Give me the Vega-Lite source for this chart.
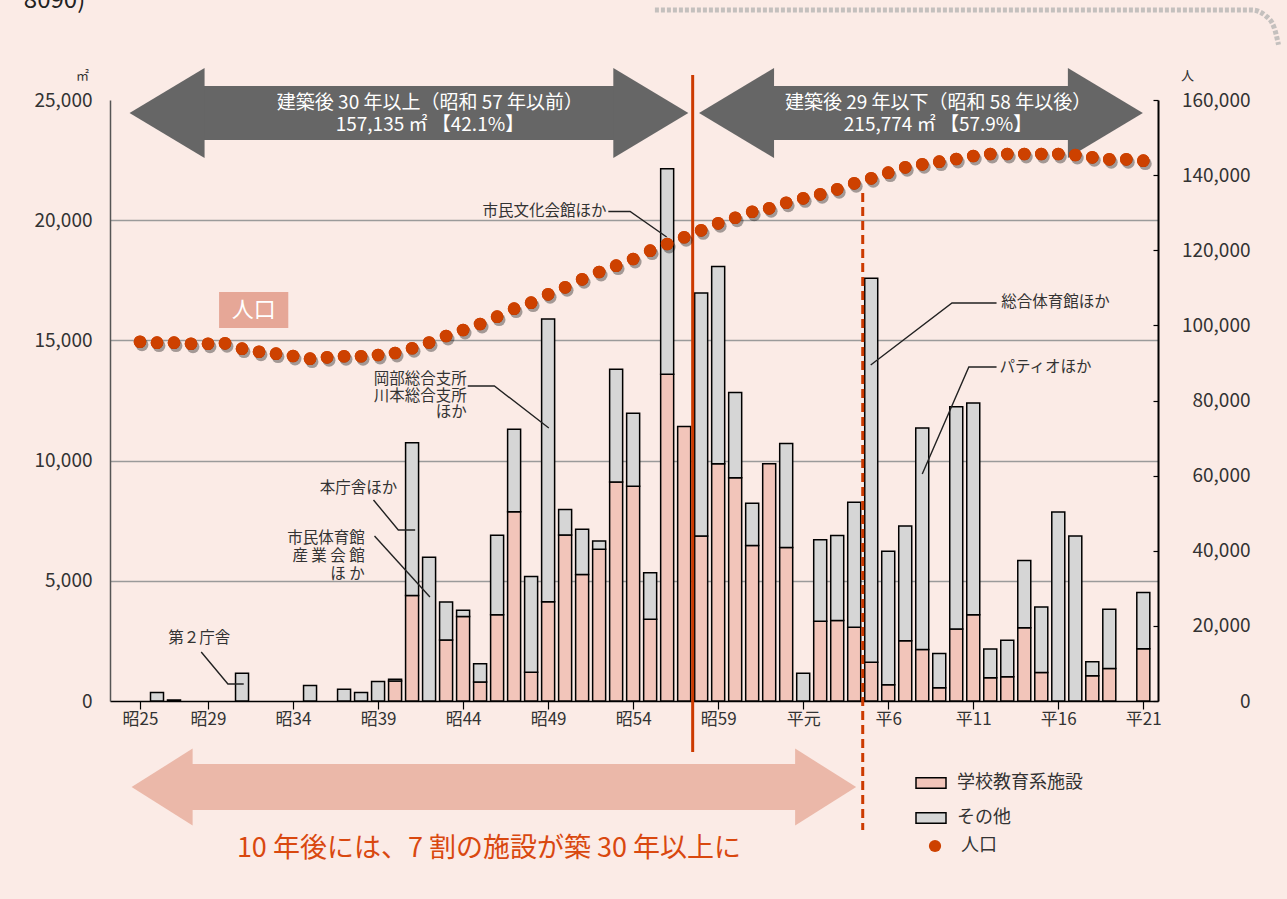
{
  "$schema": "https://vega.github.io/schema/vega-lite/v6.json",
  "width": 1048,
  "height": 601,
  "autosize": {"type": "none"},
  "padding": {"left": 110, "top": 100, "right": 129, "bottom": 198},
  "background": "#fbebe6",
  "config": {"font": "Noto Sans CJK JP", "view": {"stroke": null}},
  "datasets": {
    "bars": [
      {"year": 1951, "type": "その他", "area": 350},
      {"year": 1952, "type": "その他", "area": 40},
      {"year": 1956, "type": "その他", "area": 1150},
      {"year": 1960, "type": "その他", "area": 640},
      {"year": 1962, "type": "その他", "area": 490},
      {"year": 1963, "type": "その他", "area": 350},
      {"year": 1964, "type": "その他", "area": 810},
      {"year": 1965, "type": "学校教育系施設", "area": 830},
      {"year": 1965, "type": "その他", "area": 70},
      {"year": 1966, "type": "学校教育系施設", "area": 4390},
      {"year": 1966, "type": "その他", "area": 6350},
      {"year": 1967, "type": "その他", "area": 5980},
      {"year": 1968, "type": "学校教育系施設", "area": 2540},
      {"year": 1968, "type": "その他", "area": 1575},
      {"year": 1969, "type": "学校教育系施設", "area": 3510},
      {"year": 1969, "type": "その他", "area": 270},
      {"year": 1970, "type": "学校教育系施設", "area": 790},
      {"year": 1970, "type": "その他", "area": 755},
      {"year": 1971, "type": "学校教育系施設", "area": 3590},
      {"year": 1971, "type": "その他", "area": 3300},
      {"year": 1972, "type": "学校教育系施設", "area": 7870},
      {"year": 1972, "type": "その他", "area": 3430},
      {"year": 1973, "type": "学校教育系施設", "area": 1195},
      {"year": 1973, "type": "その他", "area": 3980},
      {"year": 1974, "type": "学校教育系施設", "area": 4130},
      {"year": 1974, "type": "その他", "area": 11755},
      {"year": 1975, "type": "学校教育系施設", "area": 6910},
      {"year": 1975, "type": "その他", "area": 1060},
      {"year": 1976, "type": "学校教育系施設", "area": 5265},
      {"year": 1976, "type": "その他", "area": 1875},
      {"year": 1977, "type": "学校教育系施設", "area": 6310},
      {"year": 1977, "type": "その他", "area": 350},
      {"year": 1978, "type": "学校教育系施設", "area": 9110},
      {"year": 1978, "type": "その他", "area": 4690},
      {"year": 1979, "type": "学校教育系施設", "area": 8930},
      {"year": 1979, "type": "その他", "area": 3040},
      {"year": 1980, "type": "学校教育系施設", "area": 3400},
      {"year": 1980, "type": "その他", "area": 1940},
      {"year": 1981, "type": "学校教育系施設", "area": 13590},
      {"year": 1981, "type": "その他", "area": 8545},
      {"year": 1982, "type": "学校教育系施設", "area": 11420},
      {"year": 1983, "type": "学校教育系施設", "area": 6860},
      {"year": 1983, "type": "その他", "area": 10110},
      {"year": 1984, "type": "学校教育系施設", "area": 9870},
      {"year": 1984, "type": "その他", "area": 8200},
      {"year": 1985, "type": "学校教育系施設", "area": 9290},
      {"year": 1985, "type": "その他", "area": 3540},
      {"year": 1986, "type": "学校教育系施設", "area": 6470},
      {"year": 1986, "type": "その他", "area": 1755},
      {"year": 1987, "type": "学校教育系施設", "area": 9870},
      {"year": 1988, "type": "学校教育系施設", "area": 6390},
      {"year": 1988, "type": "その他", "area": 4325},
      {"year": 1989, "type": "その他", "area": 1150},
      {"year": 1990, "type": "学校教育系施設", "area": 3320},
      {"year": 1990, "type": "その他", "area": 3385},
      {"year": 1991, "type": "学校教育系施設", "area": 3345},
      {"year": 1991, "type": "その他", "area": 3540},
      {"year": 1992, "type": "学校教育系施設", "area": 3070},
      {"year": 1992, "type": "その他", "area": 5200},
      {"year": 1993, "type": "学校教育系施設", "area": 1610},
      {"year": 1993, "type": "その他", "area": 15980},
      {"year": 1994, "type": "学校教育系施設", "area": 680},
      {"year": 1994, "type": "その他", "area": 5550},
      {"year": 1995, "type": "学校教育系施設", "area": 2505},
      {"year": 1995, "type": "その他", "area": 4775},
      {"year": 1996, "type": "学校教育系施設", "area": 2145},
      {"year": 1996, "type": "その他", "area": 9215},
      {"year": 1997, "type": "学校教育系施設", "area": 555},
      {"year": 1997, "type": "その他", "area": 1425},
      {"year": 1998, "type": "学校教育系施設", "area": 3000},
      {"year": 1998, "type": "その他", "area": 9245},
      {"year": 1999, "type": "学校教育系施設", "area": 3585},
      {"year": 1999, "type": "その他", "area": 8815},
      {"year": 2000, "type": "学校教育系施設", "area": 970},
      {"year": 2000, "type": "その他", "area": 1190},
      {"year": 2001, "type": "学校教育系施設", "area": 1010},
      {"year": 2001, "type": "その他", "area": 1520},
      {"year": 2002, "type": "学校教育系施設", "area": 3045},
      {"year": 2002, "type": "その他", "area": 2795},
      {"year": 2003, "type": "学校教育系施設", "area": 1190},
      {"year": 2003, "type": "その他", "area": 2725},
      {"year": 2004, "type": "その他", "area": 7860},
      {"year": 2005, "type": "その他", "area": 6860},
      {"year": 2006, "type": "学校教育系施設", "area": 1050},
      {"year": 2006, "type": "その他", "area": 580},
      {"year": 2007, "type": "学校教育系施設", "area": 1355},
      {"year": 2007, "type": "その他", "area": 2465},
      {"year": 2009, "type": "学校教育系施設", "area": 2175},
      {"year": 2009, "type": "その他", "area": 2340}
    ],
    "pop": [
      {"year": 1950, "pop": 95650}, {"year": 1951, "pop": 95390}, {"year": 1952, "pop": 95390},
      {"year": 1953, "pop": 95120}, {"year": 1954, "pop": 95120}, {"year": 1955, "pop": 95220},
      {"year": 1956, "pop": 93790}, {"year": 1957, "pop": 92990}, {"year": 1958, "pop": 92460},
      {"year": 1959, "pop": 91850}, {"year": 1960, "pop": 91130}, {"year": 1961, "pop": 91500},
      {"year": 1962, "pop": 91770}, {"year": 1963, "pop": 91770}, {"year": 1964, "pop": 92110},
      {"year": 1965, "pop": 92640}, {"year": 1966, "pop": 93900}, {"year": 1967, "pop": 95450},
      {"year": 1968, "pop": 97170}, {"year": 1969, "pop": 98770}, {"year": 1970, "pop": 100360},
      {"year": 1971, "pop": 102310}, {"year": 1972, "pop": 104440}, {"year": 1973, "pop": 106040},
      {"year": 1974, "pop": 108270}, {"year": 1975, "pop": 110130}, {"year": 1976, "pop": 112260},
      {"year": 1977, "pop": 114210}, {"year": 1978, "pop": 115890}, {"year": 1979, "pop": 117670},
      {"year": 1980, "pop": 119880}, {"year": 1981, "pop": 121660}, {"year": 1982, "pop": 123450},
      {"year": 1983, "pop": 125300}, {"year": 1984, "pop": 127170}, {"year": 1985, "pop": 128660},
      {"year": 1986, "pop": 130260}, {"year": 1987, "pop": 131160}, {"year": 1988, "pop": 132650},
      {"year": 1989, "pop": 133820}, {"year": 1990, "pop": 134890}, {"year": 1991, "pop": 136220},
      {"year": 1992, "pop": 137820}, {"year": 1993, "pop": 139150}, {"year": 1994, "pop": 140650},
      {"year": 1995, "pop": 142080}, {"year": 1996, "pop": 142880}, {"year": 1997, "pop": 143580},
      {"year": 1998, "pop": 144290}, {"year": 1999, "pop": 145090}, {"year": 2000, "pop": 145620},
      {"year": 2001, "pop": 145620}, {"year": 2002, "pop": 145620}, {"year": 2003, "pop": 145620},
      {"year": 2004, "pop": 145620}, {"year": 2005, "pop": 145360}, {"year": 2006, "pop": 144740},
      {"year": 2007, "pop": 144210}, {"year": 2008, "pop": 144210}, {"year": 2009, "pop": 143840}
    ],
    "shafts": [
      {"x": 1953.6, "x2": 1977.9, "y": 23338, "y2": 25584, "c": "top"},
      {"x": 1987.1, "x2": 2004.8, "y": 23338, "y2": 25584, "c": "top"},
      {"x": 1953.0, "x2": 1988.6, "y": -4534, "y2": -2621, "c": "bottom"}
    ],
    "heads": [
      {"x": 1951.59, "y": 24461, "dir": "L", "c": "top"},
      {"x": 1980.04, "y": 24461, "dir": "R", "c": "top"},
      {"x": 1985.08, "y": 24461, "dir": "L", "c": "top"},
      {"x": 2006.77, "y": 24461, "dir": "R", "c": "top"},
      {"x": 1951.30, "y": -3578, "dir": "L", "c": "bottom"},
      {"x": 1990.32, "y": -3578, "dir": "R", "c": "bottom"}
    ],
    "border": [
      {"i": 1, "x": 1980.28, "y": 28745},
      {"i": 2, "x": 2015.40, "y": 28745},
      {"i": 3, "x": 2016.20, "y": 28500},
      {"i": 4, "x": 2016.70, "y": 28000},
      {"i": 5, "x": 2016.95, "y": 27300}
    ],
    "leaders": [
      {"id": 1, "i": 1, "x": 1953.60, "y": 2038}, {"id": 1, "i": 2, "x": 1955.17, "y": 707}, {"id": 1, "i": 3, "x": 1956.10, "y": 707},
      {"id": 2, "i": 1, "x": 1963.73, "y": 8362}, {"id": 2, "i": 2, "x": 1965.19, "y": 7114}, {"id": 2, "i": 3, "x": 1966.18, "y": 7114},
      {"id": 3, "i": 1, "x": 1963.79, "y": 6864}, {"id": 3, "i": 2, "x": 1967.05, "y": 4326},
      {"id": 4, "i": 1, "x": 1969.27, "y": 13104}, {"id": 4, "i": 2, "x": 1970.84, "y": 13104}, {"id": 4, "i": 3, "x": 1974.04, "y": 11357},
      {"id": 5, "i": 1, "x": 1977.54, "y": 20363}, {"id": 5, "i": 2, "x": 1978.82, "y": 20363}, {"id": 5, "i": 3, "x": 1980.97, "y": 19302},
      {"id": 6, "i": 1, "x": 2000.37, "y": 16557}, {"id": 6, "i": 2, "x": 1997.75, "y": 16557}, {"id": 6, "i": 3, "x": 1992.97, "y": 13978},
      {"id": 7, "i": 1, "x": 2000.37, "y": 13894}, {"id": 7, "i": 2, "x": 1998.74, "y": 13894}, {"id": 7, "i": 3, "x": 1996.00, "y": 9443}
    ],
    "notesRight": [
      {"x": 1965.13, "y": 8861, "t": "本庁舎ほか"},
      {"x": 1963.22, "y": 6781, "t": "市民体育館"},
      {"x": 1963.22, "y": 6032, "t": "産 業 会 館"},
      {"x": 1963.22, "y": 5283, "t": "ほ か"},
      {"x": 1969.21, "y": 13395, "t": "岡部総合支所"},
      {"x": 1969.21, "y": 12688, "t": "川本総合支所"},
      {"x": 1969.21, "y": 12022, "t": "ほか"},
      {"x": 1977.43, "y": 20384, "t": "市民文化会館ほか"}
    ],
    "notesLeft": [
      {"x": 2000.65, "y": 16598, "t": "総合体育館ほか"},
      {"x": 2000.54, "y": 13894, "t": "パティオほか"}
    ],
    "notesCenter": [
      {"x": 1953.48, "y": 2600, "t": "第２庁舎"}
    ],
    "arrowText": [
      {"x": 1967.05, "y": 24877, "t": "建築後 30 年以上（昭和 57 年以前）"},
      {"x": 1967.05, "y": 23962, "t": "157,135 ㎡  【42.1%】"},
      {"x": 1996.93, "y": 24877, "t": "建築後 29 年以下（昭和 58 年以後）"},
      {"x": 1996.93, "y": 23962, "t": "215,774 ㎡  【57.9%】"}
    ],
    "popBox": [
      {"x": 1954.65, "x2": 1958.72, "y": 15517, "y2": 17014, "t": "人口", "cx": 1956.69, "cy": 16266}
    ],
    "divides": [
      {"x": 1982.5, "y": 26042, "y2": -2122}
    ],
    "divides2": [
      {"x": 1992.5, "y": 21133, "y2": -5366}
    ],
    "bottomText": [
      {"x": 1970.52, "y": -6157, "t": "10 年後には、7 割の施設が築 30 年以上に"}
    ],
    "cutText": [
      {"x": 1943.17, "y": 28829, "t": "8090)"}
    ]
  },
  "layer": [
    {
      "layer": [
        {
          "data": {"name": "bars"},
          "mark": {"type": "bar", "size": 13, "stroke": "#000", "strokeWidth": 1.5},
          "encoding": {
            "x": {
              "field": "year", "type": "quantitative",
              "scale": {"domain": [1948.53, 2009.57], "nice": false, "zero": false},
              "axis": {
                "title": null, "grid": false, "values": [1950, 1954, 1959, 1964, 1969, 1974, 1979, 1984, 1989, 1994, 1999, 2004, 2009],
                "labelExpr": "datum.value < 1989 ? '昭' + (datum.value - 1925) : (datum.value == 1989 ? '平元' : '平' + (datum.value - 1988))",
                "labelFlush": false, "labelOverlap": false, "labelFontSize": 17, "labelColor": "#333", "labelPadding": 2,
                "domainColor": "#000", "domainWidth": 1.5, "tickColor": "#000", "tickSize": 8, "tickWidth": 1.2
              }
            },
            "y": {
              "field": "area", "type": "quantitative", "stack": "zero",
              "scale": {"domain": [0, 25000], "nice": false, "zero": false},
              "axis": {
                "orient": "left", "title": "㎡", "titleAngle": 0, "titleX": -28, "titleY": -25, "titleAlign": "center", "titleBaseline": "middle",
                "titleFontSize": 13, "titleFontWeight": "normal", "titleColor": "#333",
                "values": [0, 5000, 10000, 15000, 20000, 25000], "format": ",.0f",
                "grid": true, "gridColor": "#9a9a9a", "gridWidth": 1.5,
                "gridOpacity": {"condition": {"test": "datum.value === 0 || datum.value === 25000", "value": 0}, "value": 1},
                "ticks": false, "domainColor": "#555", "domainWidth": 1.5,
                "labelFontSize": 19, "labelColor": "#333", "labelPadding": 18
              }
            },
            "fill": {
              "field": "type", "type": "nominal",
              "scale": {"domain": ["学校教育系施設", "その他"], "range": ["#f2c5ba", "#d6d6d6"]},
              "legend": {
                "title": null, "orient": "none", "legendX": 805, "legendY": 667, "padding": 0,
                "symbolType": "M-1,-0.35L1,-0.35L1,0.35L-1,0.35Z", "symbolSize": 900,
                "symbolStrokeColor": "#000", "symbolStrokeWidth": 1.5,
                "labelFontSize": 18, "labelColor": "#333", "labelOffset": 10, "rowPadding": 10
              }
            },
            "order": {"field": "type", "sort": "descending"}
          }
        },
        {
          "data": {"name": "shafts"},
          "transform": [{"filter": "datum.c === 'top'"}],
          "mark": {"type": "rect", "color": "#666666"},
          "encoding": {
            "x": {"field": "x", "type": "quantitative", "scale": {"domain": [1948.53, 2009.57], "nice": false, "zero": false}},
            "x2": {"field": "x2"},
            "y": {"field": "y", "type": "quantitative", "scale": {"domain": [0, 25000], "nice": false, "zero": false}},
            "y2": {"field": "y2"}
          }
        },
        {
          "data": {"name": "shafts"},
          "transform": [{"filter": "datum.c === 'bottom'"}],
          "mark": {"type": "rect", "color": "#ebb8a9"},
          "encoding": {
            "x": {"field": "x", "type": "quantitative", "scale": {"domain": [1948.53, 2009.57], "nice": false, "zero": false}},
            "x2": {"field": "x2"},
            "y": {"field": "y", "type": "quantitative", "scale": {"domain": [0, 25000], "nice": false, "zero": false}},
            "y2": {"field": "y2"}
          }
        },
        {
          "data": {"name": "heads"},
          "transform": [{"filter": "datum.c === 'top' && datum.dir === 'L'"}],
          "mark": {"type": "point", "filled": true, "opacity": 1, "color": "#666666", "strokeWidth": 0, "size": 5625, "shape": "M-1,0L1,-1.2L1,1.2Z"},
          "encoding": {
            "x": {"field": "x", "type": "quantitative", "scale": {"domain": [1948.53, 2009.57], "nice": false, "zero": false}},
            "y": {"field": "y", "type": "quantitative", "scale": {"domain": [0, 25000], "nice": false, "zero": false}}
          }
        },
        {
          "data": {"name": "heads"},
          "transform": [{"filter": "datum.c === 'top' && datum.dir === 'R'"}],
          "mark": {"type": "point", "filled": true, "opacity": 1, "color": "#666666", "strokeWidth": 0, "size": 5625, "shape": "M1,0L-1,-1.2L-1,1.2Z"},
          "encoding": {
            "x": {"field": "x", "type": "quantitative", "scale": {"domain": [1948.53, 2009.57], "nice": false, "zero": false}},
            "y": {"field": "y", "type": "quantitative", "scale": {"domain": [0, 25000], "nice": false, "zero": false}}
          }
        },
        {
          "data": {"name": "heads"},
          "transform": [{"filter": "datum.c === 'bottom' && datum.dir === 'L'"}],
          "mark": {"type": "point", "filled": true, "opacity": 1, "color": "#ebb8a9", "strokeWidth": 0, "size": 3721, "shape": "M-1,0L1,-1.26L1,1.26Z"},
          "encoding": {
            "x": {"field": "x", "type": "quantitative", "scale": {"domain": [1948.53, 2009.57], "nice": false, "zero": false}},
            "y": {"field": "y", "type": "quantitative", "scale": {"domain": [0, 25000], "nice": false, "zero": false}}
          }
        },
        {
          "data": {"name": "heads"},
          "transform": [{"filter": "datum.c === 'bottom' && datum.dir === 'R'"}],
          "mark": {"type": "point", "filled": true, "opacity": 1, "color": "#ebb8a9", "strokeWidth": 0, "size": 3721, "shape": "M1,0L-1,-1.26L-1,1.26Z"},
          "encoding": {
            "x": {"field": "x", "type": "quantitative", "scale": {"domain": [1948.53, 2009.57], "nice": false, "zero": false}},
            "y": {"field": "y", "type": "quantitative", "scale": {"domain": [0, 25000], "nice": false, "zero": false}}
          }
        },
        {
          "data": {"name": "border"},
          "mark": {"type": "line", "color": "#c4c0be", "strokeWidth": 5, "strokeDash": [4, 2], "interpolate": "monotone"},
          "encoding": {
            "x": {"field": "x", "type": "quantitative", "scale": {"domain": [1948.53, 2009.57], "nice": false, "zero": false}},
            "y": {"field": "y", "type": "quantitative", "scale": {"domain": [0, 25000], "nice": false, "zero": false}},
            "order": {"field": "i", "type": "quantitative"}
          }
        },
        {
          "data": {"name": "popBox"},
          "mark": {"type": "rect", "color": "#e6a797"},
          "encoding": {
            "x": {"field": "x", "type": "quantitative", "scale": {"domain": [1948.53, 2009.57], "nice": false, "zero": false}},
            "x2": {"field": "x2"},
            "y": {"field": "y", "type": "quantitative", "scale": {"domain": [0, 25000], "nice": false, "zero": false}},
            "y2": {"field": "y2"}
          }
        },
        {
          "data": {"name": "popBox"},
          "mark": {"type": "text", "color": "white", "fontSize": 22, "align": "center", "baseline": "middle"},
          "encoding": {
            "x": {"field": "cx", "type": "quantitative", "scale": {"domain": [1948.53, 2009.57], "nice": false, "zero": false}},
            "y": {"field": "cy", "type": "quantitative", "scale": {"domain": [0, 25000], "nice": false, "zero": false}},
            "text": {"field": "t"}
          }
        },
        {
          "data": {"name": "divides"},
          "mark": {"type": "rule", "color": "#cc3a00", "strokeWidth": 3},
          "encoding": {
            "x": {"field": "x", "type": "quantitative", "scale": {"domain": [1948.53, 2009.57], "nice": false, "zero": false}},
            "y": {"field": "y", "type": "quantitative", "scale": {"domain": [0, 25000], "nice": false, "zero": false}},
            "y2": {"field": "y2"}
          }
        },
        {
          "data": {"name": "divides2"},
          "mark": {"type": "rule", "color": "#cc3a00", "strokeWidth": 3, "strokeDash": [9, 5]},
          "encoding": {
            "x": {"field": "x", "type": "quantitative", "scale": {"domain": [1948.53, 2009.57], "nice": false, "zero": false}},
            "y": {"field": "y", "type": "quantitative", "scale": {"domain": [0, 25000], "nice": false, "zero": false}},
            "y2": {"field": "y2"}
          }
        },
        {
          "data": {"name": "leaders"},
          "mark": {"type": "line", "color": "#222", "strokeWidth": 1.4},
          "encoding": {
            "x": {"field": "x", "type": "quantitative", "scale": {"domain": [1948.53, 2009.57], "nice": false, "zero": false}},
            "y": {"field": "y", "type": "quantitative", "scale": {"domain": [0, 25000], "nice": false, "zero": false}},
            "detail": {"field": "id", "type": "nominal"},
            "order": {"field": "i", "type": "quantitative"}
          }
        },
        {
          "data": {"name": "notesRight"},
          "mark": {"type": "text", "align": "right", "baseline": "middle", "fontSize": 15.5, "color": "#333"},
          "encoding": {
            "x": {"field": "x", "type": "quantitative", "scale": {"domain": [1948.53, 2009.57], "nice": false, "zero": false}},
            "y": {"field": "y", "type": "quantitative", "scale": {"domain": [0, 25000], "nice": false, "zero": false}},
            "text": {"field": "t"}
          }
        },
        {
          "data": {"name": "notesLeft"},
          "mark": {"type": "text", "align": "left", "baseline": "middle", "fontSize": 15.5, "color": "#333"},
          "encoding": {
            "x": {"field": "x", "type": "quantitative", "scale": {"domain": [1948.53, 2009.57], "nice": false, "zero": false}},
            "y": {"field": "y", "type": "quantitative", "scale": {"domain": [0, 25000], "nice": false, "zero": false}},
            "text": {"field": "t"}
          }
        },
        {
          "data": {"name": "notesCenter"},
          "mark": {"type": "text", "align": "center", "baseline": "middle", "fontSize": 15.5, "color": "#333"},
          "encoding": {
            "x": {"field": "x", "type": "quantitative", "scale": {"domain": [1948.53, 2009.57], "nice": false, "zero": false}},
            "y": {"field": "y", "type": "quantitative", "scale": {"domain": [0, 25000], "nice": false, "zero": false}},
            "text": {"field": "t"}
          }
        },
        {
          "data": {"name": "arrowText"},
          "mark": {"type": "text", "align": "center", "baseline": "middle", "fontSize": 19, "color": "white"},
          "encoding": {
            "x": {"field": "x", "type": "quantitative", "scale": {"domain": [1948.53, 2009.57], "nice": false, "zero": false}},
            "y": {"field": "y", "type": "quantitative", "scale": {"domain": [0, 25000], "nice": false, "zero": false}},
            "text": {"field": "t"}
          }
        },
        {
          "data": {"name": "bottomText"},
          "mark": {"type": "text", "align": "center", "baseline": "middle", "fontSize": 27, "color": "#d9480f"},
          "encoding": {
            "x": {"field": "x", "type": "quantitative", "scale": {"domain": [1948.53, 2009.57], "nice": false, "zero": false}},
            "y": {"field": "y", "type": "quantitative", "scale": {"domain": [0, 25000], "nice": false, "zero": false}},
            "text": {"field": "t"}
          }
        },
        {
          "data": {"name": "cutText"},
          "mark": {"type": "text", "align": "left", "baseline": "alphabetic", "fontSize": 24, "color": "#222"},
          "encoding": {
            "x": {"field": "x", "type": "quantitative", "scale": {"domain": [1948.53, 2009.57], "nice": false, "zero": false}},
            "y": {"field": "y", "type": "quantitative", "scale": {"domain": [0, 25000], "nice": false, "zero": false}},
            "text": {"field": "t"}
          }
        }
      ]
    },
    {
      "data": {"name": "pop"},
      "layer": [
        {
          "mark": {"type": "point", "filled": true, "size": 160, "color": "#cd4100", "opacity": 1},
          "encoding": {
            "x": {"field": "year", "type": "quantitative", "scale": {"domain": [1948.53, 2009.57], "nice": false, "zero": false}},
            "y": {
              "field": "pop", "type": "quantitative",
              "scale": {"domain": [0, 160000], "nice": false, "zero": false},
              "axis": {
                "orient": "right", "title": "人", "titleAngle": 0, "titleX": 29, "titleY": -25, "titleAlign": "center", "titleBaseline": "middle",
                "titleFontSize": 13, "titleFontWeight": "normal", "titleColor": "#333",
                "values": [0, 20000, 40000, 60000, 80000, 100000, 120000, 140000, 160000], "format": ",.0f",
                "grid": false, "ticks": true, "tickSize": -5, "tickColor": "#000", "tickWidth": 1.2,
                "domainColor": "#000", "domainWidth": 2,
                "labelAlign": "right", "labelPadding": 97, "labelFontSize": 19, "labelColor": "#333"
              }
            },
            "shape": {
              "datum": "人口", "type": "nominal",
              "scale": {"domain": ["人口"], "range": ["circle"]},
              "legend": {
                "title": null, "orient": "none", "legendX": 816, "legendY": 737, "padding": 0,
                "symbolSize": 150, "symbolFillColor": "#cd4100", "symbolStrokeWidth": 0,
                "labelFontSize": 18, "labelColor": "#333", "labelOffset": 17
              }
            }
          }
        },
        {
          "mark": {"type": "point", "filled": true, "size": 165, "color": "#000", "opacity": 0.35, "xOffset": 2, "yOffset": 3},
          "encoding": {
            "x": {"field": "year", "type": "quantitative", "scale": {"domain": [1948.53, 2009.57], "nice": false, "zero": false}},
            "y": {"field": "pop", "type": "quantitative", "scale": {"domain": [0, 160000], "nice": false, "zero": false}}
          }
        },
        {
          "mark": {"type": "point", "filled": true, "size": 160, "color": "#cd4100", "opacity": 1},
          "encoding": {
            "x": {"field": "year", "type": "quantitative", "scale": {"domain": [1948.53, 2009.57], "nice": false, "zero": false}},
            "y": {"field": "pop", "type": "quantitative", "scale": {"domain": [0, 160000], "nice": false, "zero": false}}
          }
        }
      ]
    }
  ],
  "resolve": {"scale": {"y": "independent"}, "axis": {"y": "independent"}}
}
